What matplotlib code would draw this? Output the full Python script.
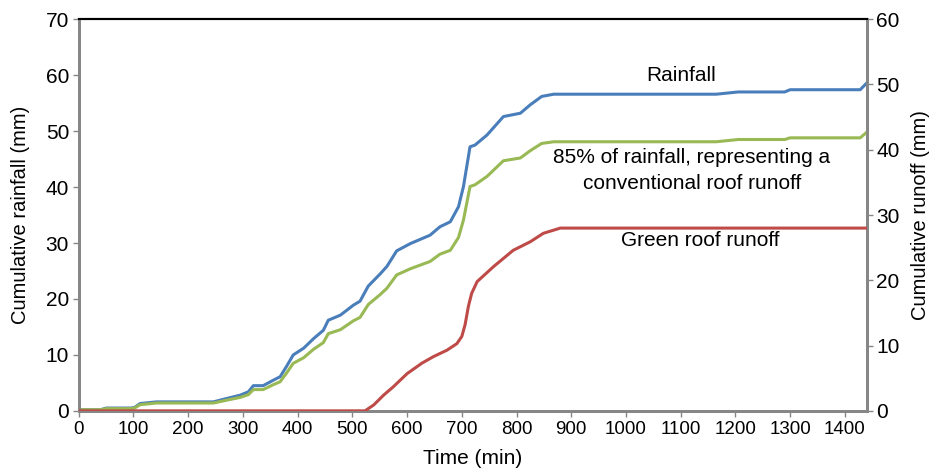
import matplotlib.pyplot as plt

plt.rcParams['font.family'] = ['Liberation Sans', 'DejaVu Sans']

# rainfall and 85 % line (left axis, mm)
time_rain = [0, 40, 50, 95, 102, 112, 142, 246, 270, 295, 310, 319, 337, 356, 368, 380,
             392, 411, 429, 447, 456, 478, 502, 514, 529, 551, 563, 581, 606, 642, 660,
             679, 694, 703, 715, 724, 746, 776, 807, 825, 846, 868, 1165, 1205, 1290,
             1300, 1428, 1440]
rainfall = [0.2, 0.2, 0.5, 0.5, 0.6, 1.3, 1.6, 1.6, 2.2, 2.8, 3.4, 4.5, 4.5, 5.5, 6.1, 8.0,
            10.0, 11.2, 12.9, 14.4, 16.2, 17.1, 18.9, 19.6, 22.3, 24.5, 25.8, 28.6, 29.9,
            31.4, 32.9, 33.8, 36.5, 40.1, 47.2, 47.5, 49.3, 52.6, 53.2, 54.7, 56.2, 56.6,
            56.6, 57.0, 57.0, 57.4, 57.4, 58.6]
conventional = [0.2, 0.2, 0.4, 0.4, 0.5, 1.1, 1.4, 1.4, 1.9, 2.4, 2.9, 3.8, 3.8, 4.7, 5.2,
                6.8, 8.5, 9.5, 11.0, 12.2, 13.8, 14.5, 16.1, 16.7, 19.0, 20.8, 21.9, 24.3,
                25.4, 26.7, 28.0, 28.7, 31.0, 34.1, 40.1, 40.4, 41.9, 44.7, 45.2, 46.5,
                47.8, 48.1, 48.1, 48.5, 48.5, 48.8, 48.8, 49.8]

# green roof runoff (right axis, mm)
time_green = [0, 523, 539, 557, 575, 600, 627, 648, 673, 691, 700, 706, 712, 718, 728, 758,
              794, 825, 849, 880, 1440]
green_roof = [0, 0, 0.9, 2.4, 3.7, 5.7, 7.3, 8.3, 9.3, 10.3, 11.4, 13.2, 16.0, 18.0, 19.8,
              22.1, 24.6, 25.9, 27.2, 28.0, 28.0]

fig, ax = plt.subplots(figsize=(9.32, 4.69), dpi=100)
fig.subplots_adjust(left=0.0845, right=0.930, top=0.959, bottom=0.124)
ax2 = ax.twinx()

ax.plot(time_rain, rainfall, color='#4A7EBB', lw=2.2, zorder=3)
ax.plot(time_rain, conventional, color='#98B954', lw=2.2, zorder=3)
ax2.plot(time_green, green_roof, color='#BE4B48', lw=2.2, zorder=3)

ax.set_xlim(0, 1440)
ax.set_ylim(0, 70)
ax2.set_ylim(0, 60)
ax.set_xticks(range(0, 1401, 100))
ax.set_yticks(range(0, 71, 10))
ax2.set_yticks(range(0, 61, 10))

for a in (ax, ax2):
    a.tick_params(length=4, width=1, color='#868686', pad=3)
    a.tick_params(axis='y', labelsize=15)
    for side in ('left', 'bottom', 'right'):
        a.spines[side].set_color('#868686')
        a.spines[side].set_linewidth(2)
    a.spines['top'].set_color('black')
    a.spines['top'].set_linewidth(1.5)
ax.tick_params(axis='x', labelsize=13.5)

ax.set_xlabel('Time (min)', fontsize=15, labelpad=8)
ax.set_ylabel('Cumulative rainfall (mm)', fontsize=14.5, labelpad=11)
ax2.set_ylabel('Cumulative runoff (mm)', fontsize=14.5, labelpad=8)

ax.text(1100, 60.0, 'Rainfall', fontsize=15, ha='center', va='center')
ax.text(1120, 45.2, '85% of rainfall, representing a', fontsize=15, ha='center', va='center')
ax.text(1120, 40.7, 'conventional roof runoff', fontsize=15, ha='center', va='center')
ax.text(1135, 30.5, 'Green roof runoff', fontsize=15, ha='center', va='center')

plt.savefig('out.png')
plt.close()
